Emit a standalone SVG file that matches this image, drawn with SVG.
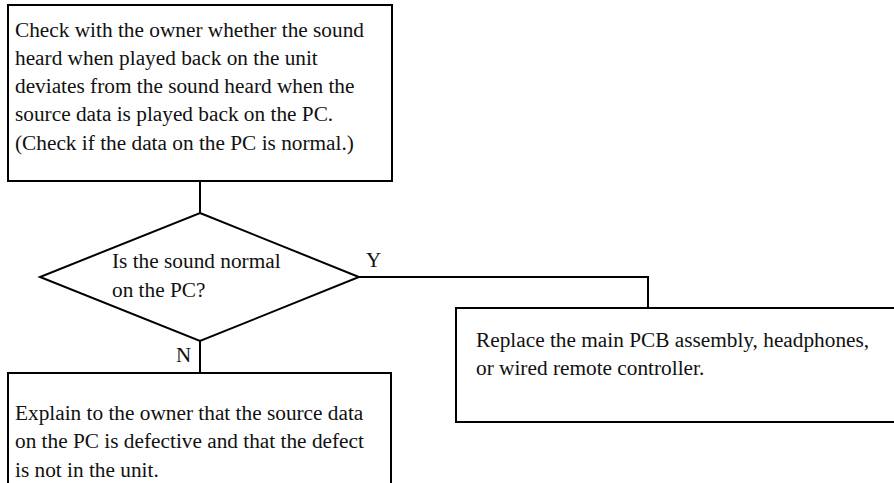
<svg xmlns="http://www.w3.org/2000/svg" width="894" height="483" viewBox="0 0 894 483">
<style>
.box{fill:#fff;stroke:#000;stroke-width:2}
.ln{fill:none;stroke:#000;stroke-width:2}
text{font-family:"Liberation Serif","Times New Roman",serif;font-size:21.3px;fill:#111}
.lbl{font-size:21px}
</style>
<rect width="894" height="483" fill="#fff"/>
<g id="connectors">
<path class="ln" d="M200,181 V213"/>
<path class="ln" d="M359,277 H648 V308"/>
<path class="ln" d="M200,341 V373"/>
<text class="lbl" x="366" y="267">Y</text>
<text class="lbl" x="176" y="362">N</text>
</g>
<g id="start">
<rect class="box" x="8" y="5" width="384" height="176"/>
<text x="15" y="37">Check with the owner whether the sound</text>
<text x="15" y="65">heard when played back on the unit</text>
<text x="15" y="93">deviates from the sound heard when the</text>
<text x="15" y="121">source data is played back on the PC.</text>
<text x="15" y="150">(Check if the data on the PC is normal.)</text>
</g>
<g id="decision">
<polygon class="box" points="200,213 359,277 200,341 40,277"/>
<text x="112" y="268">Is the sound normal</text>
<text x="112" y="297">on the PC?</text>
</g>
<g id="replace">
<rect class="box" x="456" y="308" width="450" height="114"/>
<text x="476" y="347">Replace the main PCB assembly, headphones,</text>
<text x="476" y="375">or wired remote controller.</text>
</g>
<g id="explain">
<rect class="box" x="8" y="373" width="383" height="130"/>
<text x="15" y="420">Explain to the owner that the source data</text>
<text x="15" y="448">on the PC is defective and that the defect</text>
<text x="15" y="477">is not in the unit.</text>
</g>
</svg>
